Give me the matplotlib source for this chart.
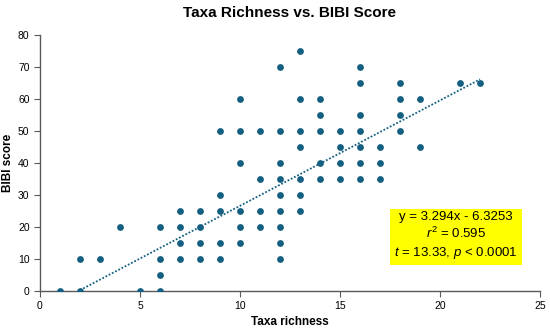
import matplotlib
matplotlib.use("Agg")
import matplotlib.pyplot as plt
import numpy as np

plt.rcParams["mathtext.fontset"] = "custom"
plt.rcParams["mathtext.rm"] = "Liberation Sans"
plt.rcParams["mathtext.it"] = "Liberation Sans:italic"

# Data (taxa richness, BIBI score)
taxa = [1, 2, 5, 6,
        6,
        2, 3, 6, 7, 8, 9, 12,
        7, 8, 9, 10, 12,
        4, 6, 7, 8, 10, 11, 12,
        7, 8, 9, 10, 11, 12, 13,
        9, 12, 13,
        11, 12, 13, 14, 15, 16, 17,
        10, 12, 14, 15, 16, 17,
        13, 15, 16, 17, 19,
        9, 10, 11, 12, 13, 14, 15, 16, 18,
        14, 16, 18,
        10, 13, 14, 18, 19,
        16, 18, 21, 22,
        12, 16,
        13]
bibi = [0, 0, 0, 0,
        5,
        10, 10, 10, 10, 10, 10, 10,
        15, 15, 15, 15, 15,
        20, 20, 20, 20, 20, 20, 20,
        25, 25, 25, 25, 25, 25, 25,
        30, 30, 30,
        35, 35, 35, 35, 35, 35, 35,
        40, 40, 40, 40, 40, 40,
        45, 45, 45, 45, 45,
        50, 50, 50, 50, 50, 50, 50, 50, 50,
        55, 55, 55,
        60, 60, 60, 60, 60,
        65, 65, 65, 65,
        70, 70,
        75]

slope = 3.294
intercept = -6.3253
fit_x = [2, 22]

color = "#156082"
fam = ["Liberation Sans", "DejaVu Sans"]

fig = plt.figure(figsize=(5.5, 3.32), dpi=100)
ax = fig.add_axes([0.0727, 0.1235, 0.9091, 0.7711])

ax.scatter(taxa, bibi, s=24, color=color, zorder=3, linewidths=0)
fx = np.array(fit_x, dtype=float)
ax.plot(fx, slope * fx + intercept, linestyle=(0, (1, 1)), color=color, lw=1.3, zorder=2)

ax.set_xlim(0, 25)
ax.set_ylim(0, 80)
ax.set_xticks([0, 5, 10, 15, 20, 25])
ax.set_yticks(range(0, 81, 10))
for s in ["top", "right"]:
    ax.spines[s].set_visible(False)
for s in ["left", "bottom"]:
    ax.spines[s].set_color("#595959")
    ax.spines[s].set_linewidth(1.0)
ax.tick_params(axis="both", direction="out", length=4, width=0.8, color="#595959",
               labelsize=7.5, labelcolor="#000000")
for lab in ax.get_xticklabels() + ax.get_yticklabels():
    lab.set_family(fam)

ax.set_xlabel("Taxa richness", fontsize=8.5, fontweight="bold", family=fam, labelpad=3)
ax.set_ylabel("BIBI score", fontsize=8.5, fontweight="bold", family=fam, labelpad=3)
ax.set_title("Taxa Richness vs. BIBI Score", fontsize=11, fontweight="bold", family=fam, pad=13)

ax.text(20.8, 17.3,
        "y = 3.294x - 6.3253\n$r^2$ = 0.595\n$t$ = 13.33, $p$ < 0.0001",
        ha="center", va="center", fontsize=9.5, family=fam,
        linespacing=1.3, zorder=4,
        bbox=dict(boxstyle="square,pad=0.3", facecolor="#FFFF00", edgecolor="none"))

fig.savefig("out.png", dpi=100)
